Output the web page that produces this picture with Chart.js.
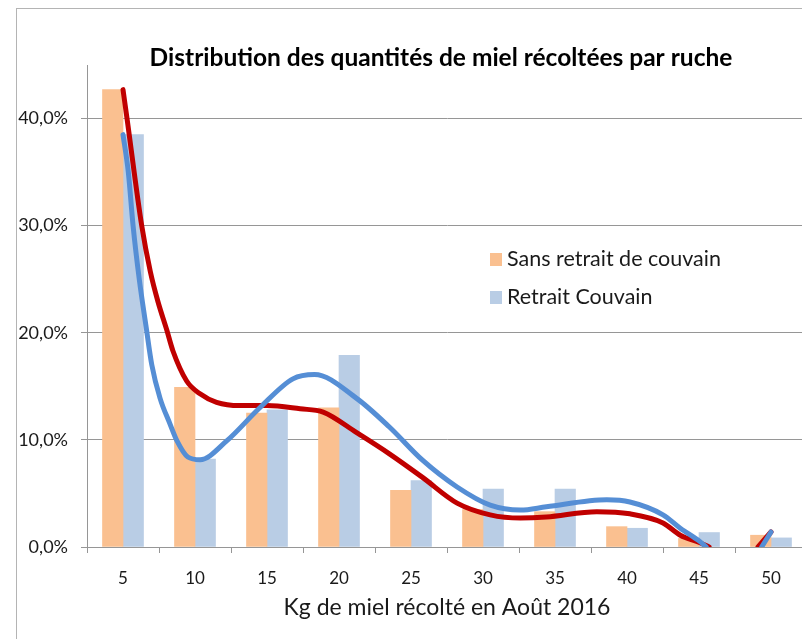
<!DOCTYPE html>
<html lang="fr">
<head>
<meta charset="utf-8">
<title>Distribution des quantités de miel récoltées par ruche</title>
<script src="https://cdn.jsdelivr.net/npm/chart.js@4/dist/chart.umd.min.js"></script>
<style>
  html, body { margin: 0; padding: 0; background: #fff; overflow: hidden; }
  #wrap { position: absolute; left: 0; top: 0; width: 830px; height: 639px; }
</style>
</head>
<body>
<div id="wrap"><canvas id="miel" width="830" height="639"></canvas></div>
<script>
/* ---------- DATA ---------- */
const categories = ['5', '10', '15', '20', '25', '30', '35', '40', '45', '50'];
const sansRetrait = [42.7, 14.9, 12.5, 13.0, 5.3, 3.5, 3.3, 1.9, 0.8, 1.1];
const retraitCouvain = [38.5, 8.2, 12.8, 17.9, 6.2, 5.4, 5.4, 1.75, 1.35, 0.85];
const yTicks = [0, 10, 20, 30, 40];

// trend curves (x in kg, y in %); null = hidden below 0
const redX = [5, 5.28, 6.3, 6.9, 7.43, 8.03, 8.47, 9.42, 10.35, 11.5, 13.1, 15.0, 17.3, 18.9, 21.2, 23.5, 25.8, 28.2, 30.5, 32.6, 34.4, 37.9, 40.2, 42.5, 43.7, 45.07, 45.7, 47.5, 49.1, 50];
const redY = [42.7, 40.0, 30.0, 25.7, 22.9, 20.3, 18.3, 15.5, 14.3, 13.5, 13.2, 13.2, 12.9, 12.6, 10.7, 8.7, 6.5, 4.1, 3.0, 2.7, 2.8, 3.3, 3.1, 2.25, 1.1, 0.4, 0, null, 0, 1.4];
const blueX = [5, 5.37, 5.7, 6.13, 6.6, 7.0, 7.57, 8.26, 8.75, 9.5, 10.35, 12.2, 14.5, 16.8, 18.3, 21.2, 23.5, 25.8, 28.2, 30.5, 32.6, 34.4, 38.6, 40.2, 42.5, 43.7, 45.07, 45.5, 47.5, 49.35, 50];
const blueY = [38.5, 35.0, 30.0, 25.0, 20.6, 17.0, 13.9, 11.5, 9.9, 8.4, 8.15, 9.9, 13.0, 15.7, 16.1, 13.9, 11.2, 8.1, 5.6, 3.9, 3.45, 3.75, 4.4, 4.2, 3.0, 1.75, 0.5, 0, null, 0, 1.4];

const pts = (xs, ys) => xs.map((x, i) => ({ x: x, y: ys[i] }));

const FONT = 'Lato, "Open Sans", sans-serif';
const GRID = '#969696';
const TXT = '#1a1a1a';

/* ---------- PLUGINS (frame, title, legend) ---------- */
const frame = {
  id: 'frame',
  beforeDraw(chart) {
    const c = chart.ctx;
    c.save();
    c.strokeStyle = '#b4b4b4';
    c.lineWidth = 1;
    c.strokeRect(16.5, 8.5, 900, 700);
    c.restore();
  }
};

const titleAndLegend = {
  id: 'titleAndLegend',
  afterDraw(chart) {
    const c = chart.ctx;
    c.save();
    c.fillStyle = '#000';
    c.font = 'bold 24.5px ' + FONT;
    c.textAlign = 'center';
    c.textBaseline = 'middle';
    c.fillText('Distribution des quantités de miel récoltées par ruche', 441, 58);

    const items = chart.data.datasets.filter(d => d.type === 'bar');
    c.font = '21.5px ' + FONT;
    c.textAlign = 'left';
    items.forEach((d, i) => {
      const y = 259 + i * 38;
      c.fillStyle = d.backgroundColor;
      c.fillRect(490, y - 6, 12, 13);
      c.fillStyle = TXT;
      c.fillText(d.label, 507, y);
    });
    c.restore();
  }
};

/* ---------- CHART ---------- */
new Chart(document.getElementById('miel').getContext('2d'), {
  data: {
    labels: categories,
    datasets: [
      {
        type: 'line', label: 'Tendance retrait', data: pts(blueX, blueY),
        xAxisID: 'x2', borderColor: '#558ED5', borderWidth: 5, pointRadius: 0,
        cubicInterpolationMode: 'monotone', spanGaps: false, borderCapStyle: 'round', order: 0
      },
      {
        type: 'line', label: 'Tendance sans retrait', data: pts(redX, redY),
        xAxisID: 'x2', borderColor: '#C00000', borderWidth: 5, pointRadius: 0,
        cubicInterpolationMode: 'monotone', spanGaps: false, borderCapStyle: 'round', order: 1
      },
      {
        type: 'bar', label: 'Sans retrait de couvain', data: sansRetrait,
        backgroundColor: '#FAC090', order: 2, barThickness: 20.5
      },
      {
        type: 'bar', label: 'Retrait Couvain', data: retraitCouvain,
        backgroundColor: '#B9CDE5', order: 3, barThickness: 20.5
      }
    ]
  },
  options: {
    responsive: false,
    animation: false,
    devicePixelRatio: 1,
    layout: { padding: { top: 65, right: 23, bottom: 0, left: 0 } },
    plugins: { legend: { display: false }, tooltip: { enabled: false }, title: { display: false } },
    scales: {
      x: {
        type: 'category',
        offset: true,
        afterFit: s => { s.height = 92; },
        grid: { offset: true, drawOnChartArea: false, drawTicks: true, tickLength: 6, color: GRID },
        border: { color: GRID, width: 1 },
        ticks: { color: TXT, font: { family: FONT, size: 17 }, padding: 15 },
        title: {
          display: true, text: 'Kg de miel récolté en Août 2016', color: TXT,
          font: { family: FONT, size: 23 }, padding: { top: 0, bottom: 18 }
        }
      },
      x2: { type: 'linear', min: 2.5, max: 52.5, display: false },
      y: {
        min: 0, max: 45,
        afterFit: s => { s.width = 87; },
        afterBuildTicks: s => { s.ticks = yTicks.map(v => ({ value: v })); },
        grid: { color: GRID, tickLength: 6 },
        border: { color: GRID, width: 1 },
        ticks: {
          color: TXT, font: { family: FONT, size: 18 }, padding: 13,
          callback: v => v.toFixed(1).replace('.', ',') + '%'
        }
      }
    }
  },
  plugins: [frame, titleAndLegend]
});
</script>
</body>
</html>
